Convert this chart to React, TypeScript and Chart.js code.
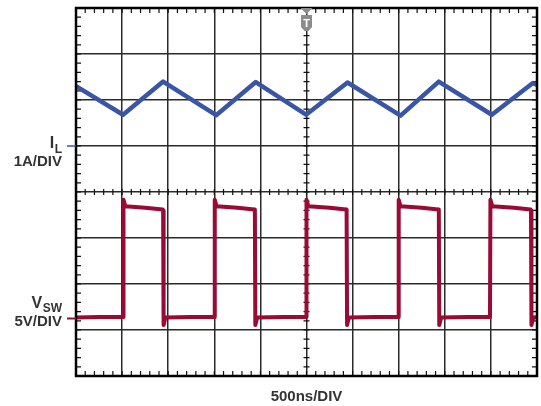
import React, { useEffect, useRef } from 'react';
import { Chart, registerables } from 'chart.js';

Chart.register(...registerables);

// Time axis in divisions (500 ns/DIV), 10 divisions across
const timeDivisions = [0, 10];
// Vertical axis in divisions, 8 divisions tall
const levelDivisions = [0, 8];

// Inductor current trace (divisions)
const ilTime = [0, 1.02, 1.89, 3.04, 3.9, 4.99, 5.89, 7.04, 7.87, 9.02, 9.91, 10];
const ilLevel = [6.3, 5.68, 6.4, 5.67, 6.39, 5.68, 6.38, 5.66, 6.4, 5.68, 6.37, 6.33];

// Switch-node voltage trace (divisions)
const vswTime = [
  0, 0.5, 1.02, 1.03, 1.07, 1.5, 1.88, 1.89, 1.9, 1.94, 2.5,
  3.0, 3.01, 3.05, 3.5, 3.87, 3.88, 3.89, 3.93, 4.5,
  4.99, 5.0, 5.04, 5.5, 5.86, 5.87, 5.88, 5.92, 6.5,
  6.99, 7.0, 7.04, 7.5, 7.86, 7.87, 7.88, 7.92, 8.5,
  8.98, 8.99, 9.03, 9.5, 9.86, 9.87, 9.88, 9.92, 10,
];
const vswLevel = [
  1.27, 1.28, 1.28, 3.83, 3.69, 3.66, 3.62, 3.6, 1.11, 1.27, 1.28,
  1.28, 3.83, 3.69, 3.66, 3.62, 3.6, 1.11, 1.27, 1.28,
  1.28, 3.83, 3.69, 3.66, 3.62, 3.6, 1.11, 1.27, 1.28,
  1.28, 3.83, 3.69, 3.66, 3.62, 3.6, 1.11, 1.27, 1.28,
  1.28, 3.83, 3.69, 3.66, 3.62, 3.6, 1.11, 1.27, 1.28,
];

// Reference markers / labels
const ilZeroLevel = 5;
const vswZeroLevel = 1.25;
const ilName = ['I', 'L'];
const ilScale = '1A/DIV';
const vswName = ['V', 'SW'];
const vswScale = '5V/DIV';
const timeScaleLabel = '500ns/DIV';
const triggerLabel = 'T';
const triggerTime = 5;

const BLUE = '#3a55a6';
const RED = '#990a35';
const TEXT = '#333333';
const FONT = '"Liberation Sans", Arial, sans-serif';

const scopePlugin = {
  id: 'scopeDecor',
  beforeDatasetsDraw(chart: any) {
    const { ctx, chartArea: a, scales } = chart;
    const x = scales.x;
    const y = scales.y;
    ctx.save();
    ctx.strokeStyle = '#111';
    ctx.lineWidth = 1.2;
    ctx.beginPath();
    const cy = y.getPixelForValue(4);
    const cx = x.getPixelForValue(5);
    for (let i = 0; i <= 50; i++) {
      const px = x.getPixelForValue(i * 0.2);
      ctx.moveTo(px, a.top);
      ctx.lineTo(px, a.top + 5);
      ctx.moveTo(px, a.bottom);
      ctx.lineTo(px, a.bottom - 5);
      ctx.moveTo(px, cy - 3);
      ctx.lineTo(px, cy + 3);
    }
    for (let i = 0; i <= 40; i++) {
      const py = y.getPixelForValue(i * 0.2);
      ctx.moveTo(a.left, py);
      ctx.lineTo(a.left + 5, py);
      ctx.moveTo(a.right, py);
      ctx.lineTo(a.right - 5, py);
      ctx.moveTo(cx - 3, py);
      ctx.lineTo(cx + 3, py);
    }
    ctx.stroke();
    ctx.restore();
  },
  afterDatasetsDraw(chart: any) {
    const { ctx, chartArea: a, scales } = chart;
    const x = scales.x;
    const y = scales.y;
    ctx.save();
    // frame
    ctx.strokeStyle = '#000';
    ctx.lineWidth = 2.5;
    ctx.strokeRect(a.left, a.top, a.right - a.left, a.bottom - a.top);

    // trigger marker
    const tx = x.getPixelForValue(triggerTime);
    const t0 = a.top;
    ctx.fillStyle = '#8c8c8c';
    ctx.beginPath();
    ctx.moveTo(tx - 6, t0);
    ctx.lineTo(tx + 6, t0);
    ctx.lineTo(tx, t0 + 6);
    ctx.closePath();
    ctx.fill();
    ctx.beginPath();
    ctx.moveTo(tx - 5.5, t0 + 7);
    ctx.lineTo(tx + 5.5, t0 + 7);
    ctx.lineTo(tx + 5.5, t0 + 19);
    ctx.lineTo(tx + 2, t0 + 23);
    ctx.lineTo(tx - 2, t0 + 23);
    ctx.lineTo(tx - 5.5, t0 + 19);
    ctx.closePath();
    ctx.fill();
    ctx.fillStyle = '#fff';
    ctx.font = `bold 11px ${FONT}`;
    ctx.textAlign = 'center';
    ctx.textBaseline = 'alphabetic';
    ctx.fillText(triggerLabel, tx, t0 + 19);

    // channel markers
    const ilY = y.getPixelForValue(ilZeroLevel);
    const vY = y.getPixelForValue(vswZeroLevel);
    ctx.lineWidth = 1.5;
    ctx.strokeStyle = BLUE;
    ctx.beginPath();
    ctx.moveTo(a.left - 9, ilY);
    ctx.lineTo(a.left, ilY);
    ctx.stroke();
    ctx.strokeStyle = RED;
    ctx.lineWidth = 2;
    ctx.beginPath();
    ctx.moveTo(a.left - 9, vY);
    ctx.lineTo(a.left, vY);
    ctx.stroke();

    // labels
    const rx = 62;
    ctx.fillStyle = TEXT;
    ctx.textAlign = 'right';
    ctx.font = `bold 12px ${FONT}`;
    const lw = ctx.measureText(ilName[1]).width;
    ctx.fillText(ilName[1], rx, ilY + 6.5);
    ctx.font = `bold 16px ${FONT}`;
    ctx.fillText(ilName[0], rx - lw - 0.5, ilY + 2);
    ctx.font = `bold 15px ${FONT}`;
    ctx.fillText(ilScale, rx, ilY + 19.5);

    ctx.font = `bold 12px ${FONT}`;
    const sw = ctx.measureText(vswName[1]).width;
    ctx.fillText(vswName[1], rx, vY - 7);
    ctx.font = `bold 16px ${FONT}`;
    ctx.fillText(vswName[0], rx - sw - 0.5, vY - 11);
    ctx.font = `bold 15px ${FONT}`;
    ctx.fillText(vswScale, rx, vY + 7);

    ctx.textAlign = 'center';
    ctx.fillText(timeScaleLabel, (a.left + a.right) / 2, a.bottom + 25);
    ctx.restore();
  },
};

export default function App() {
  const ref = useRef<HTMLCanvasElement | null>(null);
  useEffect(() => {
    if (!ref.current) return;
    const chart = new Chart(ref.current, {
      type: 'line',
      data: {
        datasets: [
          {
            label: 'IL',
            data: ilTime.map((t, i) => ({ x: t, y: ilLevel[i] })),
            borderColor: BLUE,
            borderWidth: 4.5,
            pointRadius: 0,
            tension: 0,
            borderJoinStyle: 'round',
            borderCapStyle: 'round',
          },
          {
            label: 'VSW',
            data: vswTime.map((t, i) => ({ x: t, y: vswLevel[i] })),
            borderColor: RED,
            borderWidth: 4,
            pointRadius: 0,
            tension: 0,
            borderJoinStyle: 'round',
          },
        ],
      },
      options: {
        animation: false,
        responsive: false,
        events: [],
        layout: { padding: { left: 76, top: 8, right: 4, bottom: 30 } },
        plugins: { legend: { display: false }, tooltip: { enabled: false } },
        scales: {
          x: {
            type: 'linear',
            min: timeDivisions[0],
            max: timeDivisions[1],
            ticks: { display: false, stepSize: 1 },
            grid: { color: '#2a2a2a', lineWidth: 1.5, drawTicks: false },
            border: { display: false },
            afterFit: (s: any) => { s.height = 0; },
          },
          y: {
            type: 'linear',
            min: levelDivisions[0],
            max: levelDivisions[1],
            ticks: { display: false, stepSize: 1 },
            grid: { color: '#2a2a2a', lineWidth: 1.5, drawTicks: false },
            border: { display: false },
            afterFit: (s: any) => { s.width = 0; },
          },
        },
      } as any,
      plugins: [scopePlugin],
    });
    return () => chart.destroy();
  }, []);
  return (
    <div style={{ position: 'absolute', left: 0, top: 0, width: 541, height: 406, background: '#fff' }}>
      <canvas ref={ref} width={541} height={406} />
    </div>
  );
}
